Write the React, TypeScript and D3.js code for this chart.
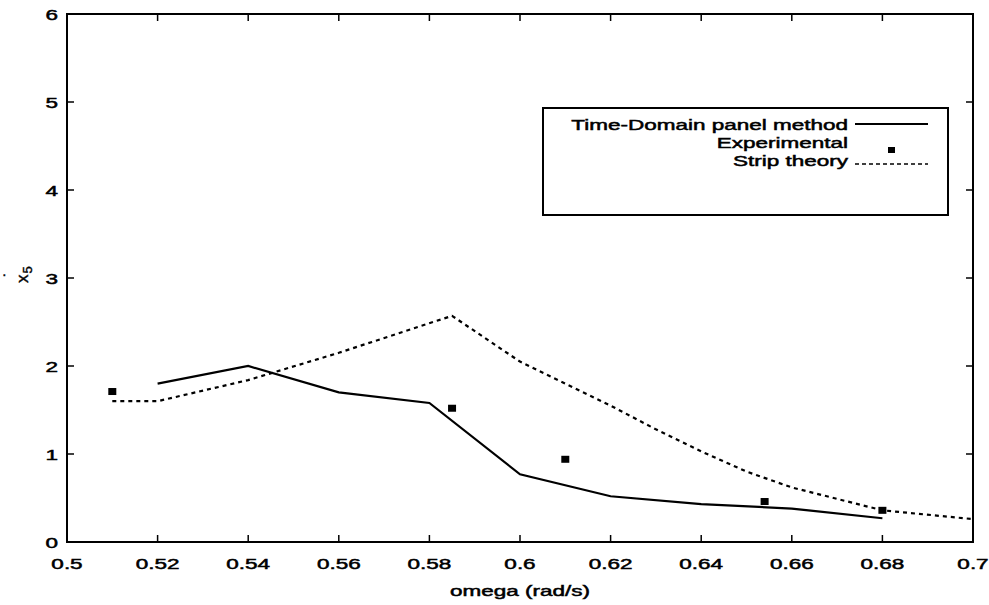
import React from 'react';
import * as d3 from 'd3';

// Time-domain panel method (solid)
const panelOmega = [0.52, 0.54, 0.56, 0.58, 0.6, 0.62, 0.64, 0.66, 0.68];
const panelX5 = [1.8, 2.0, 1.7, 1.58, 0.77, 0.52, 0.43, 0.38, 0.27];

// Experimental (squares)
const expOmega = [0.51, 0.585, 0.61, 0.654, 0.68];
const expX5 = [1.71, 1.52, 0.94, 0.46, 0.36];

// Strip theory (dashed)
const stripOmega = [0.51, 0.52, 0.54, 0.56, 0.585, 0.6, 0.62, 0.63, 0.64, 0.65, 0.66, 0.68, 0.7];
const stripX5 = [1.6, 1.6, 1.84, 2.15, 2.57, 2.05, 1.55, 1.28, 1.03, 0.8, 0.62, 0.36, 0.26];

const xTicks = [0.5, 0.52, 0.54, 0.56, 0.58, 0.6, 0.62, 0.64, 0.66, 0.68, 0.7];
const xTickLabels = ['0.5', '0.52', '0.54', '0.56', '0.58', '0.6', '0.62', '0.64', '0.66', '0.68', '0.7'];
const yTicks = [0, 1, 2, 3, 4, 5, 6];

const legendItems = ['Time-Domain panel method', 'Experimental', 'Strip theory'];

const W = 989;
const H = 605;
const margin = { left: 67, right: 16, top: 14, bottom: 63 };

const FONT = "'Liberation Sans', Arial, Helvetica, sans-serif";

const T: React.FC<{ x: number; y: number; anchor?: string; size?: number; children: React.ReactNode }> = ({
  x,
  y,
  anchor = 'middle',
  size = 15,
  children,
}) => (
  <text
    transform={`translate(${x},${y}) scale(1.5,1)`}
    textAnchor={anchor}
    fontSize={size}
    fontFamily={FONT}
    fill="#000"
    stroke="#000"
    strokeWidth={0.5}
  >
    {children}
  </text>
);

export default function App() {
  const x = d3.scaleLinear().domain([0.5, 0.7]).range([margin.left, W - margin.right]);
  const y = d3.scaleLinear().domain([0, 6]).range([H - margin.bottom, margin.top]);

  const line = d3
    .line<[number, number]>()
    .x((d) => x(d[0]))
    .y((d) => y(d[1]));

  const panelPath = line(panelOmega.map((o, i) => [o, panelX5[i]]));
  const stripPath = line(stripOmega.map((o, i) => [o, stripX5[i]]));

  const x0 = x(0.5);
  const x1 = x(0.7);
  const y0 = y(0);
  const y1 = y(6);
  const tk = 7;

  // legend box
  const lg = { left: 543, top: 108, right: 948, bottom: 215 };
  const textRight = 848;
  const rowY = [130, 148, 166];
  const markY = [124, 150, 164];

  return (
    <svg
      width={W}
      height={H}
      style={{ position: 'absolute', left: 0, top: 0, background: '#fff', display: 'block' }}
    >
      <rect x={0} y={0} width={W} height={H} fill="#fff" />

      {/* frame */}
      <rect x={x0} y={y1} width={x1 - x0} height={y0 - y1} fill="none" stroke="#000" strokeWidth={2} />

      {/* x ticks */}
      {xTicks.map((t, i) => (
        <g key={'xt' + i}>
          <line x1={x(t)} x2={x(t)} y1={y0} y2={y0 - tk} stroke="#000" strokeWidth={1.5} />
          <line x1={x(t)} x2={x(t)} y1={y1} y2={y1 + tk} stroke="#000" strokeWidth={1.5} />
          <T x={x(t)} y={y0 + 27}>
            {xTickLabels[i]}
          </T>
        </g>
      ))}

      {/* y ticks */}
      {yTicks.map((t) => (
        <g key={'yt' + t}>
          <line x1={x0} x2={x0 + tk} y1={y(t)} y2={y(t)} stroke="#000" strokeWidth={1.5} />
          <line x1={x1} x2={x1 - tk} y1={y(t)} y2={y(t)} stroke="#000" strokeWidth={1.5} />
          <T x={58} y={y(t) + 6} anchor="end">
            {String(t)}
          </T>
        </g>
      ))}

      {/* axis labels */}
      <T x={(x0 + x1) / 2} y={596}>
        omega (rad/s)
      </T>
      <g transform="translate(28,283) rotate(-90)">
        <text fontSize={17} fontFamily={FONT} fill="#000" stroke="#000" strokeWidth={0.4}>
          x<tspan fontSize={13} dx={1} dy={4}>5</tspan>
        </text>
      </g>
      <text x={2} y={279} fontSize={14} fontFamily={FONT} fill="#000" stroke="#000" strokeWidth={0.4}>
        ·
      </text>

      {/* data */}
      <path d={stripPath || ''} fill="none" stroke="#000" strokeWidth={2.2} strokeDasharray="4,4" />
      <path d={panelPath || ''} fill="none" stroke="#000" strokeWidth={2.2} />
      {expOmega.map((o, i) => (
        <rect key={'e' + i} x={x(o) - 4} y={y(expX5[i]) - 3.5} width={8} height={7} fill="#000" />
      ))}

      {/* legend */}
      <rect
        x={lg.left}
        y={lg.top}
        width={lg.right - lg.left}
        height={lg.bottom - lg.top}
        fill="#fff"
        stroke="#000"
        strokeWidth={2}
      />
      {legendItems.map((s, i) => (
        <T key={'l' + i} x={textRight} y={rowY[i]} anchor="end">
          {s}
        </T>
      ))}
      <line x1={855} x2={928} y1={markY[0]} y2={markY[0]} stroke="#000" strokeWidth={2} />
      <rect x={888} y={markY[1] - 3} width={7} height={6} fill="#000" />
      <line x1={855} x2={928} y1={markY[2]} y2={markY[2]} stroke="#000" strokeWidth={1.6} strokeDasharray="4,3" />
    </svg>
  );
}
